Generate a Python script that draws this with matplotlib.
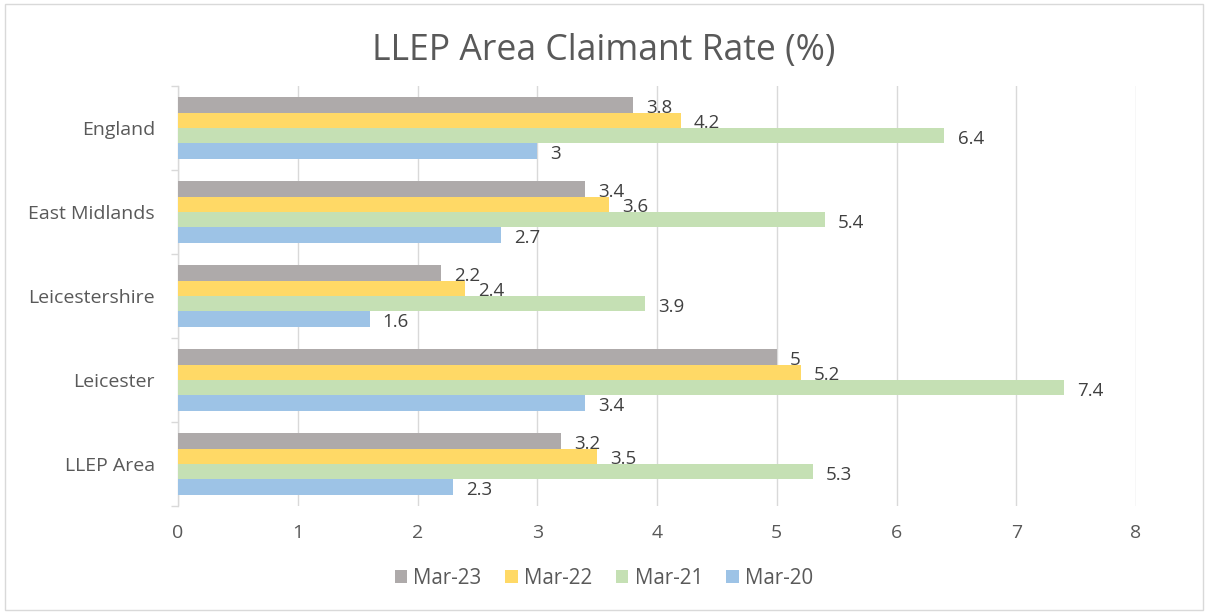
import matplotlib
matplotlib.use("Agg")
import matplotlib.pyplot as plt
import numpy as np
from matplotlib.patches import Rectangle

plt.rcParams['font.family'] = ['Open Sans', 'DejaVu Sans']

categories = ["LLEP Area", "Leicester", "Leicestershire", "East Midlands", "England"]
series_names = ["Mar-23", "Mar-22", "Mar-21", "Mar-20"]
mar23 = [3.2, 5.0, 2.2, 3.4, 3.8]
mar22 = [3.5, 5.2, 2.4, 3.6, 4.2]
mar21 = [5.3, 7.4, 3.9, 5.4, 6.4]
mar20 = [2.3, 3.4, 1.6, 2.7, 3.0]
colors = ["#AEAAAA", "#FFD966", "#C5E0B4", "#9DC3E6"]
xticks = [0, 1, 2, 3, 4, 5, 6, 7, 8]

W, H = 1208, 614
fig = plt.figure(figsize=(W / 100, H / 100), dpi=100)
ax_left, ax_right, ax_top, ax_bottom = 178, 1136, 86, 506
ax = fig.add_axes([ax_left / W, 1 - ax_bottom / H, (ax_right - ax_left) / W, (ax_bottom - ax_top) / H])

y = np.arange(len(categories))
h = 0.1836
data = [mar23, mar22, mar21, mar20]
offsets = [1.5 * h, 0.5 * h, -0.5 * h, -1.5 * h]
for vals, off, c, name in zip(data, offsets, colors, series_names):
    ax.barh(y + off, vals, height=h, color=c, label=name, zorder=3)
    for yy, v in zip(y + off, vals):
        ax.text(v + 0.11, yy - 0.035, f"{v:g}", va="center", ha="left",
                fontsize=13.5, color="#404040", zorder=4)

ax.set_xlim(0, 8)
ax.set_ylim(-0.5, len(categories) - 0.5)
ax.set_xticks(xticks)
ax.set_xticklabels([str(t) for t in xticks], fontsize=14, color="#595959")
ax.set_yticks(y)
ax.set_yticklabels(categories, fontsize=14, color="#595959")
ax.set_yticks(np.arange(-0.5, len(categories), 1.0), minor=True)
ax.tick_params(axis='x', length=0, pad=13)
ax.tick_params(axis='y', which='major', length=0, pad=16.5)
ax.tick_params(axis='y', which='minor', length=5, width=1, color="#D9D9D9", direction='out')
ax.grid(axis='x', color="#D9D9D9", linewidth=1, zorder=0)
for s in ["top", "right", "bottom"]:
    ax.spines[s].set_visible(False)
ax.spines["left"].set_color("#D9D9D9")
ax.spines["left"].set_linewidth(1)

fig.text(0.5, 1 - 51 / H, "LLEP Area Claimant Rate (%)", ha="center", va="center",
         fontsize=25.6, color="#595959")

leg = fig.legend(loc="center", bbox_to_anchor=(0.5, 1 - 578 / H), ncol=4, frameon=False,
                 fontsize=14.8, handlelength=0.61, handleheight=0.61, columnspacing=1.15,
                 handletextpad=0.3, borderpad=0)
for t in leg.get_texts():
    t.set_color("#595959")

fig.patches.append(Rectangle((5 / W, 4 / H), 1198 / W, 606 / H, transform=fig.transFigure,
                             fill=False, edgecolor="#D9D9D9", linewidth=1))

fig.savefig("out.png", dpi=100)
